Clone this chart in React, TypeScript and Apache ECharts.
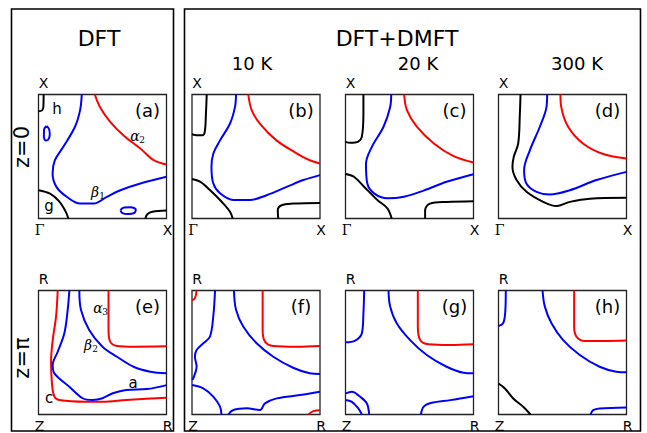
import React, { useEffect, useRef } from "react";
import * as echarts from "echarts";

// Normalised Brillouin-zone coordinates (0..1) for each panel
const aRed = [[0.44,1],[0.48,0.9],[0.56,0.78],[0.665,0.67],[0.8,0.56],[0.9,0.47],[1,0.435]];
const aBlue = [[0.338,1],[0.325,0.874],[0.285,0.74],[0.194,0.578],[0.128,0.47],[0.11,0.363],[0.14,0.255],[0.22,0.175],[0.325,0.12],[0.43,0.12],[0.534,0.175],[0.64,0.228],[0.796,0.282],[1,0.336]];
const aBlueOvalL = [[0.063,0.745],[0.083,0.72],[0.088,0.675],[0.075,0.635],[0.056,0.63],[0.042,0.66],[0.044,0.72],[0.063,0.745]];
const aBlueOvalB = [[0.64,0.068],[0.67,0.088],[0.72,0.09],[0.76,0.072],[0.75,0.046],[0.70,0.036],[0.655,0.044],[0.64,0.068]];
const aBlackH = [[0.04,1],[0.038,0.9],[0.028,0.872],[0,0.865]];
const aBlackG = [[0,0.228],[0.09,0.2],[0.16,0.14],[0.21,0.06],[0.233,0]];
const aBlackBR = [[0.835,0],[0.85,0.035],[0.89,0.055],[1,0.065]];

const bRed = [[0.44,1],[0.466,0.874],[0.53,0.766],[0.66,0.63],[0.82,0.524],[0.92,0.47],[1,0.444]];
const bBlue = [[0.344,1],[0.336,0.9],[0.297,0.766],[0.219,0.63],[0.167,0.524],[0.152,0.418],[0.166,0.284],[0.219,0.203],[0.323,0.149],[0.453,0.149],[0.583,0.188],[0.74,0.255],[0.87,0.31],[1,0.35]];
const bBlackTL = [[0.115,1],[0.109,0.847],[0.1,0.7],[0.083,0.672],[0.036,0.672],[0,0.68]];
const bBlackBL = [[0,0.319],[0.0625,0.297],[0.14,0.23],[0.232,0.135],[0.297,0.055],[0.318,0]];
const bBlackBR = [[0.674,0],[0.67,0.067],[0.70,0.107],[0.79,0.12],[1,0.126]];

const cRed = [[0.458,1],[0.48,0.874],[0.557,0.74],[0.69,0.605],[0.844,0.503],[1,0.452]];
const cBlue = [[0.357,1],[0.349,0.9],[0.297,0.74],[0.206,0.578],[0.16,0.44],[0.17,0.284],[0.223,0.203],[0.327,0.163],[0.457,0.176],[0.61,0.225],[0.79,0.296],[1,0.357]];
const cBlackTL = [[0.14,1],[0.14,0.847],[0.128,0.66],[0.1,0.62],[0.036,0.61],[0,0.618]];
const cBlackBL = [[0,0.359],[0.066,0.337],[0.145,0.256],[0.249,0.149],[0.327,0.082],[0.361,0]];
const cBlackBR = [[0.622,0],[0.622,0.067],[0.66,0.12],[0.79,0.134],[1,0.14]];

const dRed = [[0.484,1],[0.49,0.9],[0.544,0.74],[0.66,0.605],[0.818,0.52],[1,0.484]];
const dBlue = [[0.38,1],[0.375,0.9],[0.323,0.74],[0.245,0.55],[0.2,0.39],[0.219,0.28],[0.297,0.215],[0.4,0.194],[0.557,0.228],[0.766,0.31],[1,0.376]];
const dBlack = [[0.172,1],[0.167,0.847],[0.154,0.605],[0.12,0.5],[0.109,0.417],[0.141,0.31],[0.219,0.215],[0.349,0.134],[0.453,0.1],[0.557,0.134],[0.714,0.16],[1,0.167]];

const eRed = [[0.547,1],[0.547,0.682],[0.56,0.588],[0.613,0.553],[0.743,0.547],[1,0.55]];
const eBlue = [[0.319,1],[0.332,0.843],[0.397,0.68],[0.5,0.547],[0.613,0.466],[0.743,0.385],[0.874,0.345],[1,0.332]];
const eRedC = [[0.15,1],[0.137,0.789],[0.111,0.6],[0.098,0.426],[0.105,0.252],[0.124,0.144],[0.163,0.117],[0.371,0.103],[0.5,0.103],[0.684,0.117],[0.874,0.129],[1,0.135]];
const eBlueA = [[0.241,1],[0.228,0.843],[0.202,0.655],[0.15,0.506],[0.111,0.4],[0.124,0.332],[0.241,0.224],[0.345,0.131],[0.423,0.117],[0.5,0.131],[0.58,0.171],[0.684,0.198],[0.848,0.205],[1,0.237]];

const fRed = [[0.552,1],[0.552,0.682],[0.57,0.588],[0.635,0.553],[0.818,0.547],[1,0.553]];
const fBlue = [[0.328,1],[0.344,0.844],[0.4,0.709],[0.505,0.574],[0.635,0.466],[0.79,0.377],[0.92,0.332],[1,0.326]];
const fBlueL = [[0.18,1],[0.166,0.789],[0.14,0.627],[0.088,0.574],[0.036,0.52],[0.023,0.466],[0.036,0.385],[0.01,0.292],[0,0.28]];
const fBlueBL = [[0,0.238],[0.088,0.211],[0.166,0.144],[0.219,0.063],[0.23,0]];
const fBlueBR = [[0.284,0],[0.323,0.036],[0.427,0.05],[0.531,0.036],[0.57,0.09],[0.662,0.13],[0.844,0.157],[1,0.184]];
const fRedTL = [[0.036,1],[0.023,0.938],[0,0.92]];
const fRedBR = [[0.91,0],[0.948,0.027],[1,0.035]];

const gRed = [[0.565,1],[0.565,0.709],[0.583,0.6],[0.648,0.566],[0.818,0.56],[1,0.566]];
const gBlue = [[0.336,1],[0.349,0.87],[0.4,0.736],[0.505,0.6],[0.635,0.48],[0.79,0.385],[0.922,0.337],[1,0.332]];
const gBlueTL = [[0.146,1],[0.14,0.817],[0.128,0.655],[0.0755,0.596],[0,0.582]];
const gBlueBLo = [[0,0.17],[0.05,0.183],[0.115,0.143],[0.167,0.089],[0.185,0]];
const gBlueBLi = [[0,0.116],[0.05,0.102],[0.1,0.0485],[0.128,0]];
const gBlueBR = [[0.589,0],[0.61,0.062],[0.674,0.094],[0.818,0.116],[1,0.148]];

const hRed = [[0.591,1],[0.591,0.709],[0.609,0.628],[0.674,0.593],[0.844,0.593],[1,0.596]];
const hBlue = [[0.344,1],[0.362,0.87],[0.414,0.736],[0.505,0.6],[0.635,0.48],[0.79,0.385],[0.92,0.345],[1,0.34]];
const hBlueTL = [[0.057,1],[0.052,0.817],[0.036,0.736],[0,0.714]];
const hBlackBL = [[0,0.25],[0.05,0.21],[0.115,0.129],[0.193,0.062],[0.25,0]];
const hBlueBR = [[0.719,0],[0.74,0.035],[0.79,0.0485],[1,0.057]];

const panelTags = ["(a)", "(b)", "(c)", "(d)", "(e)", "(f)", "(g)", "(h)"];
const tempLabels = ["10 K", "20 K", "300 K"];

const RED = "#ff0000";
const BLUE = "#0000ff";
const BLACK = "#000000";

const panelCurves: [number[][], string][][] = [
  [[aRed, RED], [aBlue, BLUE], [aBlueOvalL, BLUE], [aBlueOvalB, BLUE], [aBlackH, BLACK], [aBlackG, BLACK], [aBlackBR, BLACK]],
  [[bRed, RED], [bBlue, BLUE], [bBlackTL, BLACK], [bBlackBL, BLACK], [bBlackBR, BLACK]],
  [[cRed, RED], [cBlue, BLUE], [cBlackTL, BLACK], [cBlackBL, BLACK], [cBlackBR, BLACK]],
  [[dRed, RED], [dBlue, BLUE], [dBlack, BLACK]],
  [[eRed, RED], [eBlue, BLUE], [eRedC, RED], [eBlueA, BLUE]],
  [[fRed, RED], [fBlue, BLUE], [fBlueL, BLUE], [fBlueBL, BLUE], [fBlueBR, BLUE], [fRedTL, RED], [fRedBR, RED]],
  [[gRed, RED], [gBlue, BLUE], [gBlueTL, BLUE], [gBlueBLo, BLUE], [gBlueBLi, BLUE], [gBlueBR, BLUE]],
  [[hRed, RED], [hBlue, BLUE], [hBlueTL, BLUE], [hBlackBL, BLACK], [hBlueBR, BLUE]],
];

const colLefts = [38.5, 192, 345.5, 498.5];
const rowTops = [94.5, 290.5];
const PW = 128;
const PH = 124;

export default function App() {
  const ref = useRef<HTMLDivElement>(null);
  useEffect(() => {
    if (!ref.current) return;
    const chart = echarts.init(ref.current, null, { renderer: "svg" });
    const grids: any[] = [];
    const xAxes: any[] = [];
    const yAxes: any[] = [];
    const series: any[] = [];
    const graphic: any[] = [];
    const sans = "DejaVu Sans";
    const serif = "DejaVu Serif";
    const txt = (x: number, y: number, text: string, size: number, extra: any = {}) => ({
      type: "text",
      x,
      y,
      style: {
        text,
        fontSize: size,
        fontFamily: extra.font || sans,
        fontStyle: extra.italic ? "italic" : "normal",
        fill: "#000",
        align: "center",
        verticalAlign: "middle",
      },
      rotation: extra.rotation || 0,
      z: 10,
    });
    const greek = (x: number, y: number, g: string, sub: string) => {
      graphic.push(txt(x, y, g, 14, { font: serif, italic: true }));
      graphic.push(txt(x + 7, y + 4, sub, 9, { font: serif }));
    };

    for (let i = 0; i < 8; i++) {
      const row = i < 4 ? 0 : 1;
      const col = i % 4;
      const left = colLefts[col];
      const top = rowTops[row];
      grids.push({ left, top, width: PW, height: PH, show: true, borderColor: "#222", borderWidth: 1.3, backgroundColor: "transparent" });
      xAxes.push({ type: "value", gridIndex: i, min: 0, max: 1, show: false });
      yAxes.push({ type: "value", gridIndex: i, min: 0, max: 1, show: false });
      panelCurves[i].forEach(([data, color]) => {
        series.push({
          type: "line",
          xAxisIndex: i,
          yAxisIndex: i,
          data,
          smooth: 0.35,
          showSymbol: false,
          symbol: "none",
          lineStyle: { color, width: 2 },
          silent: true,
        });
      });
      graphic.push(txt(left + PW - 19, top + 16, panelTags[i], 18));
      const tl = row === 0 ? "X" : "R";
      const bl = row === 0 ? "Γ" : "Z";
      const br = row === 0 ? "X" : "R";
      graphic.push(txt(left + 5, top - 12, tl, 14));
      graphic.push(txt(left + 1, top + PH + 11, bl, 14, { font: row === 0 ? serif : sans }));
      graphic.push(txt(left + PW + 1, top + PH + 11, br, 14));
    }

    // outer frames
    graphic.push({ type: "rect", shape: { x: 11.5, y: 9, width: 162, height: 422 }, style: { fill: "none", stroke: "#000", lineWidth: 1.6 } });
    graphic.push({ type: "rect", shape: { x: 184.5, y: 9, width: 456, height: 422 }, style: { fill: "none", stroke: "#000", lineWidth: 1.6 } });
    // headings
    graphic.push(txt(99, 38, "DFT", 22));
    graphic.push(txt(397, 38, "DFT+DMFT", 22));
    graphic.push(txt(252, 63, tempLabels[0], 18));
    graphic.push(txt(418, 63, tempLabels[1], 18));
    graphic.push(txt(577, 63, tempLabels[2], 18));
    graphic.push(txt(22, 147, "z=0", 21, { rotation: Math.PI / 2 }));
    graphic.push(txt(22, 358, "z=π", 21, { rotation: Math.PI / 2 }));
    // band labels
    graphic.push(txt(57, 109, "h", 15));
    graphic.push(txt(49, 206, "g", 15));
    greek(135, 136, "α", "2");
    greek(95, 192, "β", "1");
    greek(98, 308, "α", "3");
    greek(88, 345, "β", "2");
    graphic.push(txt(133, 383, "a", 15));
    graphic.push(txt(49, 398, "c", 15));

    chart.setOption({
      animation: false,
      backgroundColor: "#ffffff",
      grid: grids,
      xAxis: xAxes,
      yAxis: yAxes,
      series,
      graphic,
    });
    return () => chart.dispose();
  }, []);
  return <div ref={ref} style={{ position: "fixed", left: 0, top: 0, width: 647, height: 433 }} />;
}
